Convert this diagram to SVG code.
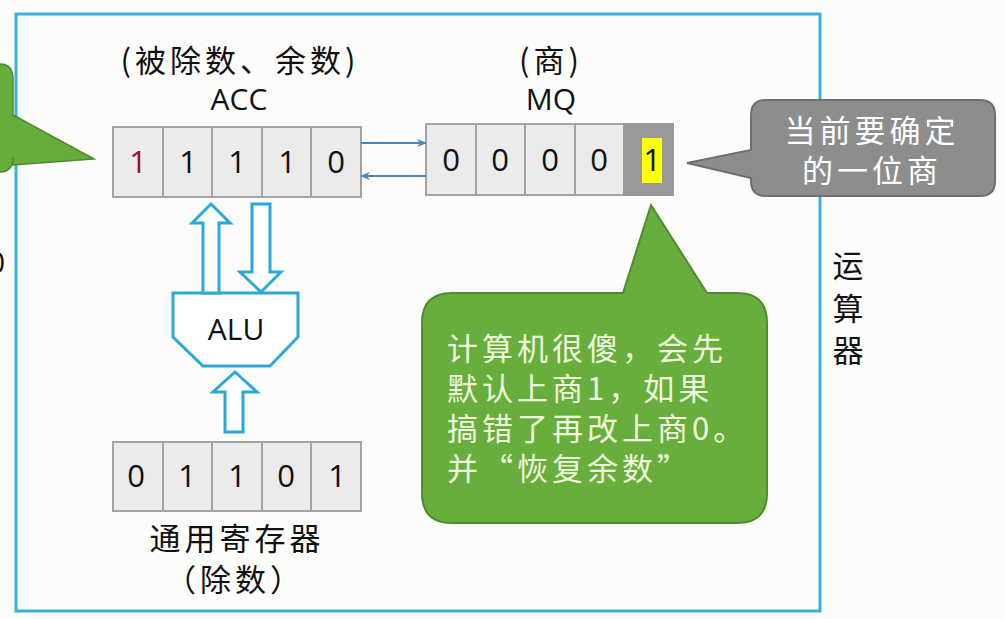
<svg xmlns="http://www.w3.org/2000/svg" width="1005" height="619" viewBox="0 0 1005 619">
<style>
.cjk{font-family:"Noto Sans CJK SC","Noto Sans",sans-serif;font-size:31px;letter-spacing:4px;}
.lat{font-family:"Open Sans","Noto Sans",sans-serif;font-size:30px;fill:#111;}
.cell{fill:#ebebeb;stroke:#a3a3a3;stroke-width:2;}
.dig{font-family:"Open Sans","Noto Sans",sans-serif;font-size:31px;fill:#111;text-anchor:middle;}
.blk{fill:#fff;stroke:#2aa8d8;stroke-width:3;stroke-linejoin:miter;}
.link{stroke:#4a86c0;stroke-width:2;fill:none;}
</style>
<defs>
<marker id="ah" markerWidth="10" markerHeight="8" refX="9" refY="4" orient="auto" markerUnits="userSpaceOnUse">
<path d="M0,0 L10,4 L0,8 L3,4 Z" fill="#4a86c0"/>
</marker>
</defs>
<rect x="0" y="0" width="1005" height="619" fill="#fcfcfa"/>

<g id="frame">
<rect x="16" y="14" width="804" height="597" fill="none" stroke="#3bb0de" stroke-width="3"/>
<text class="cjk" x="850" y="277" text-anchor="middle" fill="#111" letter-spacing="0">运</text>
<text class="cjk" x="850" y="320" text-anchor="middle" fill="#111" letter-spacing="0">算</text>
<text class="cjk" x="850" y="362" text-anchor="middle" fill="#111" letter-spacing="0">器</text>
</g>

<g id="left-callout">
<path d="M-40,64 H0 Q13,64 13,79 V115 L94,159 L13,165 V157 Q13,172 0,172 H-40 Z" fill="#66ad3c" stroke="#4d8a2f" stroke-width="1.5"/>
<text class="lat" x="-12" y="273">0</text>
</g>

<g id="acc">
<text class="cjk" x="240" y="72" text-anchor="middle" fill="#111" letter-spacing="2">(被除数、余数)</text>
<text class="lat" x="239" y="110" text-anchor="middle">ACC</text>
<rect class="cell" x="113" y="127" width="50" height="70"/>
<rect class="cell" x="163" y="127" width="49" height="70"/>
<rect class="cell" x="212" y="127" width="50" height="70"/>
<rect class="cell" x="262" y="127" width="49" height="70"/>
<rect class="cell" x="311" y="127" width="50" height="70"/>
<text class="dig" x="138" y="173" style="fill:#a0102a">1</text>
<text class="dig" x="188" y="173">1</text>
<text class="dig" x="237" y="173">1</text>
<text class="dig" x="287" y="173">1</text>
<text class="dig" x="336" y="173">0</text>
</g>

<g id="mq">
<text class="cjk" x="551" y="72" text-anchor="middle" fill="#111" letter-spacing="2">(商)</text>
<text class="lat" x="551" y="110" text-anchor="middle">MQ</text>
<rect class="cell" x="426" y="124" width="50" height="71"/>
<rect class="cell" x="476" y="124" width="49" height="71"/>
<rect class="cell" x="525" y="124" width="50" height="71"/>
<rect class="cell" x="575" y="124" width="49" height="71"/>
<rect x="624" y="124" width="49" height="71" fill="#999" stroke="#999" stroke-width="2"/>
<rect x="642" y="138" width="20" height="45" fill="#ffff00"/>
<text class="dig" x="451" y="171">0</text>
<text class="dig" x="500" y="171">0</text>
<text class="dig" x="550" y="171">0</text>
<text class="dig" x="599" y="171">0</text>
<text class="dig" x="652" y="171">1</text>
</g>

<g id="alu">
<polygon class="blk" points="173,293 298,293 298,337 270,366 203,366 173,337"/>
<text class="lat" x="236" y="340" text-anchor="middle" font-size="28">ALU</text>
</g>

<g id="gpr">
<rect class="cell" x="113" y="442" width="50" height="69"/>
<rect class="cell" x="163" y="442" width="49" height="69"/>
<rect class="cell" x="212" y="442" width="50" height="69"/>
<rect class="cell" x="262" y="442" width="49" height="69"/>
<rect class="cell" x="311" y="442" width="50" height="69"/>
<text class="dig" x="136" y="487">0</text>
<text class="dig" x="187" y="487">1</text>
<text class="dig" x="237" y="487">1</text>
<text class="dig" x="286" y="487">0</text>
<text class="dig" x="337" y="487">1</text>
<text class="cjk" x="237" y="550" text-anchor="middle" fill="#111">通用寄存器</text>
<text class="cjk" x="235" y="591" text-anchor="middle" fill="#111" letter-spacing="0">（除数）</text>
</g>

<g id="connectors">
<line class="link" x1="361" y1="143" x2="426" y2="143" marker-end="url(#ah)"/>
<line class="link" x1="426" y1="176" x2="361" y2="176" marker-end="url(#ah)"/>
<polygon class="blk" points="211,204 230,223 219,223 219,293 203,293 203,223 192,223"/>
<polygon class="blk" points="252,204 270,204 270,272 281,272 261,292 240,272 252,272"/>
<polygon class="blk" points="235,372 257,392 243,392 243,432 225,432 225,392 213,392"/>
</g>

<g id="gray-callout">
<path d="M766,100 H980 Q995,100 995,115 V181 Q995,196 980,196 H766 Q751,196 751,181 V178 L687,163 L751,150 V115 Q751,100 766,100 Z" fill="#8d8d8d" stroke="#6f6f6f" stroke-width="2"/>
<text class="cjk" x="872" y="142" text-anchor="middle" fill="#fff">当前要确定</text>
<text class="cjk" x="872" y="182" text-anchor="middle" fill="#fff">的一位商</text>
</g>

<g id="green-callout">
<path d="M454,293 H623 L651,205 L707,293 H737 Q767,293 767,323 V493 Q767,523 737,523 H452 Q422,523 422,493 V323 Q422,293 452,293 Z" fill="#68ae3d" stroke="#4f8c30" stroke-width="2"/>
<g class="cjk" fill="#eef8dc">
<text x="447" y="360">计算机很傻，会先</text>
<text x="447" y="400">默认上商1，如果</text>
<text x="447" y="440">搞错了再改上商0。</text>
<text x="447" y="480">并“恢复余数”</text>
</g>
</g>
</svg>
